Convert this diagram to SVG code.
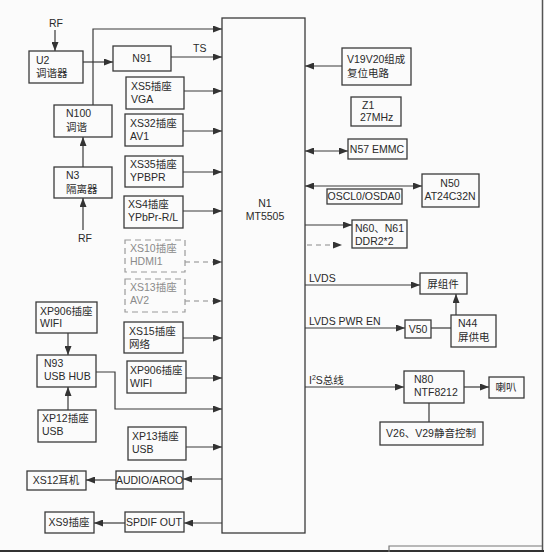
<svg xmlns="http://www.w3.org/2000/svg" width="544" height="552" viewBox="0 0 544 552">
<style>
.bx{fill:none;stroke:#3a3a3a;stroke-width:1.3}
.fd{fill:none;stroke:#9a9a9a;stroke-width:1.2;stroke-dasharray:6 4}
.c{fill:none;stroke:#3a3a3a;stroke-width:1.2}
.cf{fill:none;stroke:#8a8a8a;stroke-width:1.2;stroke-dasharray:5 4}
.a{marker-end:url(#ah)}
.d{marker-start:url(#ah);marker-end:url(#ah)}
text{font-family:"Liberation Sans","Noto Sans CJK SC",sans-serif;font-size:10.5px;fill:#2a2a2a}
.m{text-anchor:middle}
.ft{fill:#8a8a8a}
</style>
<defs>
<marker id="ah" markerWidth="9" markerHeight="7" refX="9" refY="3.5" orient="auto-start-reverse" markerUnits="userSpaceOnUse"><path d="M0,0 L9,3.5 L0,7 z" fill="#333"/></marker>
</defs>
<rect width="544" height="552" fill="#fbfbfb"/>
<line x1="542.5" y1="0" x2="542.5" y2="552" stroke="#555" stroke-width="1.5"/>
<line x1="0" y1="551" x2="544" y2="551" stroke="#333" stroke-width="2"/>
<path d="M389,552 V546 H542" fill="none" stroke="#777" stroke-width="1.2"/>

<g id="connectors">
<line class="c a" x1="55" y1="30" x2="55" y2="51"/>
<line class="c a" x1="83" y1="62" x2="113" y2="62"/>
<line class="c a" x1="171" y1="57" x2="222" y2="57"/>
<polyline class="c a" points="93,105 93,29 222,29"/>
<line class="c a" x1="184" y1="91" x2="222" y2="91"/>
<line class="c a" x1="183" y1="131" x2="222" y2="131"/>
<line class="c a" x1="183" y1="172" x2="222" y2="172"/>
<line class="c a" x1="183" y1="211" x2="222" y2="211"/>
<line class="c a" x1="83" y1="167" x2="83" y2="137"/>
<line class="c a" x1="83" y1="230" x2="83" y2="198"/>
<line class="cf a" x1="185" y1="262" x2="222" y2="262"/>
<line class="cf a" x1="185" y1="301" x2="222" y2="301"/>
<line class="c a" x1="183" y1="338" x2="222" y2="338"/>
<line class="c a" x1="186" y1="378" x2="222" y2="378"/>
<line class="c a" x1="68" y1="333" x2="68" y2="355"/>
<polyline class="c a" points="96,372 115,372 115,409 222,409"/>
<line class="c a" x1="68" y1="410" x2="68" y2="387"/>
<line class="c a" x1="186" y1="447" x2="222" y2="447"/>
<line class="c a" x1="222" y1="479" x2="183" y2="479"/>
<line class="c a" x1="116" y1="480" x2="86" y2="480"/>
<line class="c a" x1="222" y1="523" x2="184" y2="523"/>
<line class="c a" x1="125" y1="523" x2="94" y2="523"/>
<line class="c a" x1="342" y1="66" x2="305" y2="66"/>
<line class="c d" x1="305" y1="151" x2="348" y2="151"/>
<line class="c d" x1="305" y1="186" x2="422" y2="186"/>
<line class="c a" x1="305" y1="225" x2="352" y2="225"/>
<line class="cf a" x1="307" y1="245" x2="342" y2="245"/>
<line class="c a" x1="305" y1="285" x2="420" y2="285"/>
<line class="c a" x1="456" y1="315" x2="456" y2="294"/>
<line class="c a" x1="305" y1="328" x2="405" y2="328"/>
<line class="c" x1="431" y1="328" x2="451" y2="328"/>
<line class="c a" x1="305" y1="387" x2="404" y2="387"/>
<line class="c a" x1="464" y1="387" x2="489" y2="387"/>
<line class="c" x1="429" y1="403" x2="429" y2="422"/>
</g>

<g id="labels">
<text x="49" y="27">RF</text>
<text x="78" y="242">RF</text>
<text x="193" y="52">TS</text>
<text x="309" y="282">LVDS</text>
<text x="309" y="325">LVDS PWR EN</text>
<text x="309" y="384">I<tspan font-size="7" dy="-4">2</tspan><tspan dy="4">S总线</tspan></text>
</g>

<g id="N1"><rect class="bx" x="222" y="18" width="83" height="515"/><text class="m" x="265" y="207">N1</text><text class="m" x="265" y="220">MT5505</text></g>
<g id="U2"><rect class="bx" x="29" y="51" width="54" height="32"/><text x="36" y="64">U2</text><text x="36" y="77">调谐器</text></g>
<g id="N91"><rect class="bx" x="113" y="46" width="58" height="25"/><text class="m" x="142" y="62">N91</text></g>
<g id="XS5"><rect class="bx" x="126" y="77" width="58" height="32"/><text x="131" y="90">XS5插座</text><text x="131" y="103">VGA</text></g>
<g id="XS32"><rect class="bx" x="125" y="114" width="58" height="32"/><text x="130" y="127">XS32插座</text><text x="130" y="140">AV1</text></g>
<g id="XS35"><rect class="bx" x="125" y="156" width="58" height="31"/><text x="130" y="168">XS35插座</text><text x="130" y="181">YPBPR</text></g>
<g id="XS4"><rect class="bx" x="124" y="196" width="59" height="32"/><text x="128" y="208">XS4插座</text><text x="128" y="221" font-size="10">YPbPr-R/L</text></g>
<g id="N100"><rect class="bx" x="54" y="105" width="58" height="32"/><text x="66" y="117">N100</text><text x="66" y="131">调谐</text></g>
<g id="N3"><rect class="bx" x="54" y="167" width="58" height="31"/><text x="66" y="179">N3</text><text x="66" y="193">隔离器</text></g>
<g id="XS10"><rect class="fd" x="125" y="240" width="60" height="32"/><text class="ft" x="130" y="252">XS10插座</text><text class="ft" x="130" y="265">HDMI1</text></g>
<g id="XS13"><rect class="fd" x="125" y="279" width="60" height="33"/><text class="ft" x="130" y="291">XS13插座</text><text class="ft" x="130" y="304">AV2</text></g>
<g id="XS15"><rect class="bx" x="124" y="322" width="59" height="31"/><text x="129" y="335">XS15插座</text><text x="129" y="348">网络</text></g>
<g id="XP906b"><rect class="bx" x="127" y="361" width="59" height="32"/><text x="130" y="374">XP906插座</text><text x="130" y="387">WIFI</text></g>
<g id="XP906a"><rect class="bx" x="36" y="302" width="61" height="31"/><text x="40" y="315">XP906插座</text><text x="40" y="327">WIFI</text></g>
<g id="N93"><rect class="bx" x="37" y="355" width="59" height="32"/><text x="44" y="367">N93</text><text x="44" y="380">USB HUB</text></g>
<g id="XP12"><rect class="bx" x="38" y="410" width="58" height="32"/><text x="42" y="422">XP12插座</text><text x="42" y="435">USB</text></g>
<g id="XP13"><rect class="bx" x="128" y="427" width="58" height="33"/><text x="132" y="440">XP13插座</text><text x="132" y="453">USB</text></g>
<g id="XS12"><rect class="bx" x="27" y="471" width="59" height="19"/><text class="m" x="56" y="484">XS12耳机</text></g>
<g id="AUDIO"><rect class="bx" x="116" y="471" width="67" height="18"/><text class="m" x="149.5" y="484" font-size="9.5">AUDIO/AROO</text></g>
<g id="XS9"><rect class="bx" x="45" y="512" width="49" height="21"/><text class="m" x="69" y="526">XS9插座</text></g>
<g id="SPDIF"><rect class="bx" x="125" y="512" width="59" height="20"/><text class="m" x="154" y="526">SPDIF OUT</text></g>
<g id="V19"><rect class="bx" x="342" y="48" width="69" height="37"/><text x="347" y="63">V19V20组成</text><text x="347" y="77">复位电路</text></g>
<g id="Z1"><rect class="bx" x="351" y="97" width="50" height="29"/><text x="362" y="109">Z1</text><text x="360" y="121">27MHz</text></g>
<g id="N57"><rect class="bx" x="348" y="139" width="59" height="20"/><text class="m" x="377" y="153">N57 EMMC</text></g>
<g id="OSCL"><rect class="bx" x="327" y="189" width="75" height="15"/><text class="m" x="364" y="200" font-size="10">OSCL0/OSDA0</text></g>
<g id="N50"><rect class="bx" x="422" y="174" width="57" height="33"/><text class="m" x="450" y="187">N50</text><text class="m" x="450" y="200">AT24C32N</text></g>
<g id="N60"><rect class="bx" x="352" y="220" width="55" height="28"/><text x="355" y="232" font-size="9.5">N60、N61</text><text x="355" y="245" font-size="9.5">DDR2*2</text></g>
<g id="PZJ"><rect class="bx" x="420" y="273" width="47" height="21"/><text class="m" x="443" y="288">屏组件</text></g>
<g id="V50"><rect class="bx" x="405" y="320" width="26" height="18"/><text class="m" x="418" y="333">V50</text></g>
<g id="N44"><rect class="bx" x="451" y="315" width="45" height="32"/><text x="458" y="327">N44</text><text x="458" y="341">屏供电</text></g>
<g id="N80"><rect class="bx" x="404" y="371" width="60" height="32"/><text x="414" y="383">N80</text><text x="414" y="396">NTF8212</text></g>
<g id="LB"><rect class="bx" x="489" y="377" width="35" height="21"/><text class="m" x="506" y="391">喇叭</text></g>
<g id="V26"><rect class="bx" x="380" y="422" width="103" height="23"/><text class="m" x="431" y="437">V26、V29静音控制</text></g>
</svg>
